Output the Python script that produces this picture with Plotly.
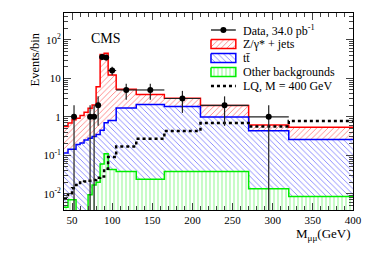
import numpy as np
import plotly.graph_objects as go

# ---- data ----
bin_edges = [40, 45, 50, 55, 60, 65, 70, 75, 80, 85, 90, 95, 105, 130, 165, 210, 270, 320, 400]
data_counts = [0, 0, 1, 0, 0, 0, 1, 1, 2, 36, 35, 16, 5, 5, 3, 2, 1, 0]
other_bkg = [0.0045, 0.007, 0.007, 0, 0, 0, 0.0095, 0.017, 0.02, 0.06, 0.11, 0.043,
             0.038, 0.024, 0.038, 0.038, 0.0135, 0.0085]
ttbar = [0.11, 0.138, 0.138, 0.19, 0.21, 0.25, 0.27, 0.29, 0.33, 0.39, 0.59, 0.76,
         1.66, 2.08, 1.81, 0.96, 0.42, 0.25]
zjets = [0.45, 0.55, 0.70, 0.73, 0.87, 1.07, 1.40, 1.74, 5.75, 41.5, 44.3, 11.5,
         3.5, 1.7, 1.21, 0.97, 0.18, 0.28]
lq400 = [0.0077, 0.0104, 0.014, 0.017, 0.0196, 0.021, 0.022, 0.023, 0.026, 0.028,
         0.045, 0.09, 0.17, 0.27, 0.43, 0.69, 0.56, 0.78]
ytick_vals = [0.01, 0.1, 1, 10, 100]
ytick_text = ["10<sup>-2</sup>", "10<sup>-1</sup>", "1", "10", "10<sup>2</sup>"]
legend_labels = ["Data, 34.0 pb<sup>-1</sup>", "Z/\u03b3* + jets", "tt\u0304",
                 "Other backgrounds", "LQ, M = 400 GeV"]

FONT = "Liberation Serif"
RED, BLUE, GREEN = "#ff0000", "#0000ff", "#00ee00"

edges = np.array(bin_edges, dtype=float)
centers = 0.5 * (edges[:-1] + edges[1:])
halfw = 0.5 * (edges[1:] - edges[:-1])

s_other = np.array(other_bkg)
s_tt = s_other + np.array(ttbar)
s_tot = s_tt + np.array(zjets)


def step_xy(vals):
    v = np.where(np.array(vals) > 0, vals, 1e-6)
    return list(edges), list(v) + [v[-1]]


def pattern(shape, col):
    return dict(shape=shape, fgcolor=col, bgcolor="white", size=4, solidity=0.22)


fig = go.Figure()

styles = [(s_tot, RED, "/"), (s_tt, BLUE, "\\"), (s_other, GREEN, "|")]
for vals, col, shape in styles:
    x, y = step_xy(vals)
    fig.add_trace(go.Scatter(
        x=x, y=y, mode="lines", line=dict(color=col, width=1.5, shape="hv"),
        fill="tozeroy", fillcolor="rgba(255,255,255,0)",
        fillpattern=pattern(shape, col), showlegend=False, hoverinfo="skip"))

x, y = step_xy(lq400)
fig.add_trace(go.Scatter(x=x, y=y, mode="lines",
                         line=dict(color="black", width=2.5, dash="dot", shape="hv"),
                         showlegend=False))

mask = np.array(data_counts) > 0
dc = np.array(data_counts, dtype=float)[mask]
fig.add_trace(go.Scatter(
    x=centers[mask], y=dc, mode="markers",
    marker=dict(color="black", size=6),
    error_y=dict(type="data", array=np.sqrt(dc), color="#222222", thickness=1.2, width=0),
    error_x=dict(type="data", array=halfw[mask], color="#222222", thickness=1.2, width=0),
    showlegend=False))

# ---- hand-drawn legend on an overlay axis in pixel units ----
lx0, lx1, ltext = 212, 237, 242
rows = [30, 44, 58, 72, 86]
fig.add_trace(go.Scatter(x=[lx0, lx1], y=[rows[0], rows[0]], xaxis="x2", yaxis="y2",
                         mode="lines", line=dict(color="black", width=1.2), showlegend=False))
fig.add_trace(go.Scatter(x=[(lx0 + lx1) / 2], y=[rows[0]], xaxis="x2", yaxis="y2",
                         mode="markers", marker=dict(color="black", size=6), showlegend=False))
for r, (_, col, shape) in zip(rows[1:4], styles):
    fig.add_trace(go.Scatter(
        x=[lx0, lx1, lx1, lx0, lx0], y=[r - 4.5, r - 4.5, r + 4.5, r + 4.5, r - 4.5],
        xaxis="x2", yaxis="y2", mode="lines", line=dict(color=col, width=1.5),
        fill="toself", fillcolor="rgba(255,255,255,0)", fillpattern=pattern(shape, col),
        showlegend=False))
fig.add_trace(go.Scatter(x=[lx0, lx1], y=[rows[4], rows[4]], xaxis="x2", yaxis="y2",
                         mode="lines", line=dict(color="black", width=2.5, dash="dot"),
                         showlegend=False))

annotations = [
    dict(text=t, x=ltext, y=r, xref="x2", yref="y2", xanchor="left", yanchor="middle",
         showarrow=False, font=dict(size=12, family=FONT))
    for t, r in zip(legend_labels, rows)
]
annotations += [
    dict(text="CMS", x=0.144, y=0.873, xref="paper", yref="paper",
         xanchor="center", yanchor="middle",
         showarrow=False, font=dict(size=14, family=FONT)),
    dict(text="M<sub>\u03bc\u03bc</sub>(GeV)", x=1.0, y=-0.122, xref="paper", yref="paper",
         xanchor="right", yanchor="middle", showarrow=False, font=dict(size=13, family=FONT)),
    dict(text="Events/bin", x=-0.10, y=0.765, xref="paper", yref="paper",
         xanchor="center", yanchor="middle", textangle=-90, showarrow=False,
         font=dict(size=12.5, family=FONT)),
]

fig.update_layout(
    width=374, height=253,
    margin=dict(l=64, r=19, t=13, b=43),
    paper_bgcolor="white", plot_bgcolor="white",
    font=dict(family=FONT, color="black", size=11),
    showlegend=False,
    xaxis=dict(range=[40, 400], tick0=0, dtick=50, ticks="inside", ticklen=7,
               showline=True, linecolor="black", linewidth=1, mirror="allticks",
               showgrid=False, zeroline=False, tickfont=dict(size=11, family=FONT),
               minor=dict(dtick=10, tick0=0, ticks="inside", ticklen=4, showgrid=False)),
    yaxis=dict(type="log", range=[np.log10(0.0038), np.log10(500)],
               tickmode="array", tickvals=ytick_vals, ticktext=ytick_text,
               ticks="inside", ticklen=7, showline=True, linecolor="black", linewidth=1,
               mirror="allticks", showgrid=False, zeroline=False,
               tickfont=dict(size=11, family=FONT),
               minor=dict(dtick="D1", ticks="inside", ticklen=4, showgrid=False)),
    xaxis2=dict(overlaying="x", range=[64, 355], visible=False, anchor="y2"),
    yaxis2=dict(overlaying="y", range=[210, 13], visible=False, anchor="x2"),
    annotations=annotations,
)

fig.write_html("out.html", post_script="document.body.style.margin='0';",
               config={"displayModeBar": False})
